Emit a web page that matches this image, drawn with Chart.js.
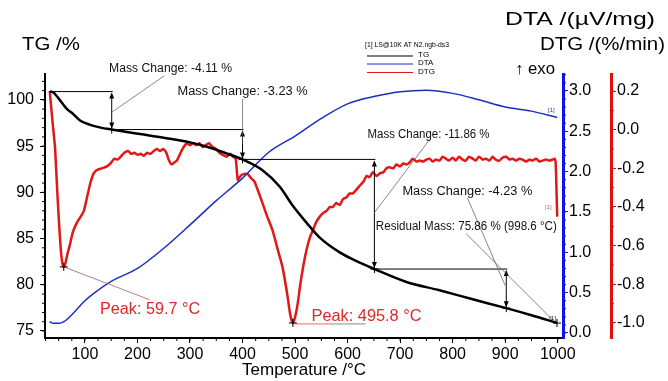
<!DOCTYPE html>
<html><head><meta charset="utf-8">
<script src="https://cdn.jsdelivr.net/npm/chart.js@4.4.1/dist/chart.umd.min.js"></script>
<style>html,body{margin:0;padding:0;background:#fff;}</style>
</head><body>
<canvas id="c" width="668" height="381"></canvas>
<script>
// ---- tick labels ----
const xTicks = [100,200,300,400,500,600,700,800,900,1000];
const tgTicks = [75,80,85,90,95,100];
const dtaTicks = [0,0.5,1,1.5,2,2.5,3];
const dtgTicks = [-1,-0.8,-0.6,-0.4,-0.2,0,0.2];

// ---- TG curve ----
const tgTemp = [33,40,45,52,60,66,77,90,110,130,151,205,250,300,340,370,400,438,471,495,522,547,585,615,651,712,775,840,902,950,998.6];
const tgMass = [100.9,100.8,100.5,100.0,99.4,99.0,98.5,97.8,97.3,97.0,96.79,96.3,95.9,95.4,94.8,94.2,93.56,92.4,90.6,88.6,86.7,85.1,83.5,82.6,81.70,80.3,79.4,78.4,77.47,76.7,75.86];

// ---- DTA curve ----
const dtaTemp = [33,40,50,60,80,100,125,150,200,250,300,350,400,450,500,550,600,650,700,750,800,850,900,950,999];
const dtaVal  = [0.14,0.12,0.12,0.14,0.26,0.40,0.53,0.64,0.80,1.05,1.34,1.64,1.92,2.24,2.44,2.66,2.84,2.93,2.99,3.01,2.97,2.89,2.80,2.75,2.67];

// ---- DTG curve ----
const dtgTemp = [33,38,43,47,50,54,57,59.7,63,67,71,77,85,92,98,104,110,116,122,132,142,150,156,162,168,175,182,188,194,200,206,212,218,225,231,237,243,249,255,260,265,270,275,282,288,294,300,306,312,318,324,330,336,343,350,356,362,370,376,382,387,391,396,402,410,416,423,430,438,447,457,466,476,485,491,495.8,500,505,510,516,522,528,534,540,547,554,560,566,572,578,585,591,598,604,610,617,623,630,636,642,648,655,662,668,674,680,687,693,700,706,712,718,724,731,737,744,750,756,762,768,775,781,787,793,800,806,812,819,825,831,838,844,850,857,863,870,876,882,889,895,902,908,914,921,927,933,940,946,952,959,965,971,978,984,990,994,996,998,999];
const dtgVal  = [0.20,0.05,-0.09,-0.30,-0.45,-0.62,-0.69,-0.71,-0.69,-0.64,-0.60,-0.53,-0.48,-0.45,-0.42,-0.35,-0.28,-0.23,-0.21,-0.20,-0.19,-0.17,-0.15,-0.155,-0.14,-0.12,-0.11,-0.125,-0.12,-0.13,-0.125,-0.135,-0.12,-0.125,-0.11,-0.10,-0.11,-0.10,-0.12,-0.16,-0.18,-0.17,-0.16,-0.12,-0.09,-0.07,-0.08,-0.07,-0.08,-0.07,-0.09,-0.08,-0.07,-0.09,-0.10,-0.12,-0.13,-0.14,-0.125,-0.14,-0.15,-0.26,-0.24,-0.23,-0.23,-0.25,-0.27,-0.32,-0.38,-0.45,-0.52,-0.61,-0.71,-0.85,-0.96,-1.00,-0.97,-0.90,-0.80,-0.70,-0.62,-0.56,-0.52,-0.48,-0.45,-0.43,-0.42,-0.40,-0.40,-0.38,-0.39,-0.36,-0.35,-0.33,-0.33,-0.31,-0.29,-0.27,-0.24,-0.245,-0.22,-0.24,-0.225,-0.22,-0.20,-0.195,-0.20,-0.18,-0.19,-0.175,-0.18,-0.17,-0.15,-0.165,-0.16,-0.165,-0.155,-0.15,-0.165,-0.155,-0.16,-0.14,-0.15,-0.16,-0.145,-0.16,-0.14,-0.155,-0.16,-0.14,-0.15,-0.16,-0.14,-0.155,-0.15,-0.16,-0.14,-0.155,-0.16,-0.145,-0.14,-0.155,-0.15,-0.16,-0.15,-0.155,-0.165,-0.155,-0.16,-0.15,-0.165,-0.16,-0.155,-0.16,-0.155,-0.15,-0.17,-0.35,-0.45];

// ---- evaluation results ----
const stepTemp = [35,151,400,651,902];
const stepMass = [100.9,96.79,93.56,81.70,77.47];
const stepLabels = ['Mass Change: -4.11 %','Mass Change: -3.23 %','Mass Change: -11.86 %','Mass Change: -4.23 %'];
const residualTemp = 998.6;
const residualMass = 75.86;
const residualLabel = 'Residual Mass: 75.86 % (998.6 \u00B0C)';
const peakTemp = [59.7,495.8];
const peakDtg = [-0.71,-1.0];
const peakLabels = ['Peak: 59.7 \u00B0C','Peak: 495.8 \u00B0C'];

const pts = (xs, ys) => xs.map((x, i) => ({x: x, y: ys[i]}));

function txt(ctx, s, x, y, size, color, align, width) {
  ctx.save();
  ctx.font = size + 'px "Liberation Sans", Arial, sans-serif';
  ctx.fillStyle = color;
  ctx.textBaseline = 'middle';
  const w = ctx.measureText(s).width;
  const sx = width ? width / w : 1;
  let x0 = x;
  const ww = w * sx;
  if (align === 'center') x0 = x - ww / 2;
  else if (align === 'right') x0 = x - ww;
  ctx.translate(x0, y);
  ctx.scale(sx, 1);
  ctx.textAlign = 'left';
  ctx.fillText(s, 0, 0);
  ctx.restore();
}
function line(ctx, x1, y1, x2, y2, color, w) {
  ctx.save(); ctx.strokeStyle = color; ctx.lineWidth = w;
  ctx.beginPath(); ctx.moveTo(x1, y1); ctx.lineTo(x2, y2); ctx.stroke(); ctx.restore();
}
function head(ctx, x, y, dir) {
  ctx.beginPath(); ctx.moveTo(x, y); ctx.lineTo(x - 2.5, y - dir * 6); ctx.lineTo(x + 2.5, y - dir * 6); ctx.closePath(); ctx.fill();
}
function cross(ctx, x, y, color) {
  line(ctx, x - 4, y, x + 4, y, color, 1); line(ctx, x, y - 4, x, y + 4, color, 1);
}

const overlay = {
  id: 'overlay',
  afterDraw(chart) {
    const ctx = chart.ctx;
    const X = chart.scales.x, Y = chart.scales.y, A = chart.scales.dta, D = chart.scales.dtg;
    const px = v => X.getPixelForValue(v);
    const pyT = v => Y.getPixelForValue(v);
    const pyA = v => A.getPixelForValue(v);
    const pyD = v => D.getPixelForValue(v);
    const ca = chart.chartArea;
    // minor ticks
    for (let t = 25; t <= 1000; t += 25) line(ctx, px(t), ca.bottom, px(t), ca.bottom + 3, '#000', 1);
    for (let m = 75; m <= 102; m += 1) line(ctx, ca.left - 3, pyT(m), ca.left, pyT(m), '#000', 1);
    for (let k = 0; k <= 32; k++) line(ctx, A.left, pyA(k / 10), A.left + 3, pyA(k / 10), '#1010ee', 1);
    for (let k = -10; k <= 2; k++) line(ctx, D.left, pyD(k / 10), D.left + 3, pyD(k / 10), '#e01010', 1);

    // mass change steps
    ctx.save(); ctx.fillStyle = '#000';
    for (let i = 0; i < stepLabels.length; i++) {
      const xa = px(stepTemp[i]), xb = px(stepTemp[i + 1]);
      const y1 = pyT(stepMass[i]), y2 = pyT(stepMass[i + 1]);
      line(ctx, xa, y1, xb + 1, y1, '#000', 1);
      line(ctx, xb, y1 + 2, xb, y2 - 2, '#000', 1);
      head(ctx, xb, y1 + 1, -1); head(ctx, xb, y2 - 1, 1);
      cross(ctx, xb, y2, '#000');
    }
    ctx.restore();
    cross(ctx, px(residualTemp), pyT(residualMass), '#000');

    // leader lines (in data coordinates)
    const g = '#555';
    line(ctx, px(251), pyT(102.6), px(152), pyT(98.7), g, 0.7);
    line(ctx, px(400), pyT(100.1), px(400), pyT(95.2), g, 0.7);
    line(ctx, px(756), pyT(95.7), px(651), pyT(87.8), g, 0.7);
    line(ctx, px(828), pyT(89.4), px(900), pyT(79.9), g, 0.7);
    line(ctx, px(826), pyT(85.5), px(992), pyT(76.1), g, 0.7);

    // labels
    txt(ctx, stepLabels[0], px(263), pyT(103.35), 12, '#111', 'center', 123);
    txt(ctx, stepLabels[1], px(400), pyT(100.87), 12, '#111', 'center', 130);
    txt(ctx, stepLabels[2], px(754), pyT(96.2), 12, '#111', 'center', 122);
    txt(ctx, stepLabels[3], px(828), pyT(90.04), 12, '#111', 'center', 130);
    txt(ctx, residualLabel, px(826), pyT(86.26), 12, '#111', 'center', 181);

    // peaks
    line(ctx, px(peakTemp[0]), pyD(peakDtg[0]), px(223), pyD(-0.88), '#a06060', 0.8);
    cross(ctx, px(peakTemp[0]), pyD(peakDtg[0]), '#000');
    txt(ctx, peakLabels[0], px(224), pyD(-0.93), 16, '#e02828', 'center', 100);
    line(ctx, px(peakTemp[1]), pyD(peakDtg[1]) + 1, px(565), pyD(peakDtg[1]) + 1, '#e07070', 1);
    line(ctx, px(565), pyD(peakDtg[1]) + 1, px(634), pyD(peakDtg[1]) + 1, '#888', 1);
    cross(ctx, px(peakTemp[1]), pyD(peakDtg[1]), '#000');
    txt(ctx, peakLabels[1], px(636), pyD(-0.965), 16, '#e02828', 'center', 110);

    // [1] tags
    txt(ctx, '[1]', px(988), pyA(2.76), 6, '#3030a0', 'center');
    txt(ctx, '[1]', px(982), pyD(-0.40), 6, '#c06060', 'center');
    txt(ctx, '[1]', px(990), pyT(76.4), 6, '#000', 'center');

    // axis titles
    txt(ctx, 'TG /%', 22, 45, 18, '#000', 'left', 58);
    txt(ctx, 'DTA /(\u00B5V/mg)', 505, 20, 18, '#000', 'left', 150);
    txt(ctx, 'DTG /(%/min)', 665, 45, 18, '#000', 'right', 125);
    txt(ctx, '\u2191 exo', 515, 70, 16, '#000', 'left', 40);

    // legend
    txt(ctx, '[1] LS@10K AT N2.ngb-ds3', 365, 45, 8, '#000', 'left', 84);
    const ds = chart.data.datasets;
    const ly = [56, 64, 72.5];
    ds.forEach((d, i) => {
      line(ctx, 367, ly[i], 413, ly[i], d.borderColor, 1);
      txt(ctx, d.label, 418, ly[i] - 1, 8, '#000', 'left');
    });
  }
};

const tickFont = {size: 16, family: '"Liberation Sans", Arial'};

new Chart(document.getElementById('c'), {
  type: 'line',
  data: {
    datasets: [
      {label: 'TG', data: pts(tgTemp, tgMass), yAxisID: 'y', borderColor: '#000000', borderWidth: 2.5, pointRadius: 0, cubicInterpolationMode: 'monotone'},
      {label: 'DTA', data: pts(dtaTemp, dtaVal), yAxisID: 'dta', borderColor: '#1a2fc0', borderWidth: 1.5, pointRadius: 0, cubicInterpolationMode: 'monotone'},
      {label: 'DTG', data: pts(dtgTemp, dtgVal), yAxisID: 'dtg', borderColor: '#e01818', borderWidth: 2.5, pointRadius: 0, tension: 0.2}
    ]
  },
  options: {
    responsive: false, animation: false, devicePixelRatio: 1,
    layout: {padding: {top: 74, left: 0, right: 0, bottom: 0}},
    plugins: {legend: {display: false}, tooltip: {enabled: false}},
    scales: {
      x: {
        type: 'linear', position: 'bottom', min: 24, max: 1010,
        afterBuildTicks: s => { s.ticks = xTicks.map(v => ({value: v})); },
        afterFit: s => { s.height = 43; },
        grid: {drawOnChartArea: false, drawTicks: true, tickLength: 5, color: '#000'},
        border: {color: '#000', width: 2},
        ticks: {color: '#000', font: tickFont, padding: 2, maxRotation: 0, autoSkip: false, callback: v => String(v)},
        title: {display: true, text: 'Temperature /\u00B0C', color: '#000', font: {size: 17, family: '"Liberation Sans", Arial'}, padding: {top: 0, bottom: 0}}
      },
      y: {
        type: 'linear', position: 'left', min: 74.24, max: 102.8,
        afterBuildTicks: s => { s.ticks = tgTicks.map(v => ({value: v})); },
        afterFit: s => { s.width = 45; },
        grid: {drawOnChartArea: false, drawTicks: true, tickLength: 5, color: '#000'},
        border: {color: '#000', width: 2},
        ticks: {color: '#000', font: tickFont, padding: 6, callback: v => String(v)}
      },
      dta: {
        type: 'linear', position: 'right', min: -0.062, max: 3.21, weight: 0,
        afterBuildTicks: s => { s.ticks = dtaTicks.map(v => ({value: v})); },
        afterFit: s => { s.width = 48; },
        grid: {drawOnChartArea: false, drawTicks: true, tickLength: 5, color: '#1010ee'},
        border: {color: '#1010ee', width: 3},
        ticks: {color: '#000', font: tickFont, padding: 1, callback: v => v.toFixed(1)}
      },
      dtg: {
        type: 'linear', position: 'right', min: -1.078, max: 0.288, weight: 1,
        afterBuildTicks: s => { s.ticks = dtgTicks.map(v => ({value: v})); },
        afterFit: s => { s.width = 57; },
        grid: {drawOnChartArea: false, drawTicks: true, tickLength: 5, color: '#e01010'},
        border: {color: '#e01010', width: 3},
        ticks: {color: '#000', font: tickFont, padding: 1, callback: v => v.toFixed(1)}
      }
    }
  },
  plugins: [overlay]
});
</script>
</body></html>
